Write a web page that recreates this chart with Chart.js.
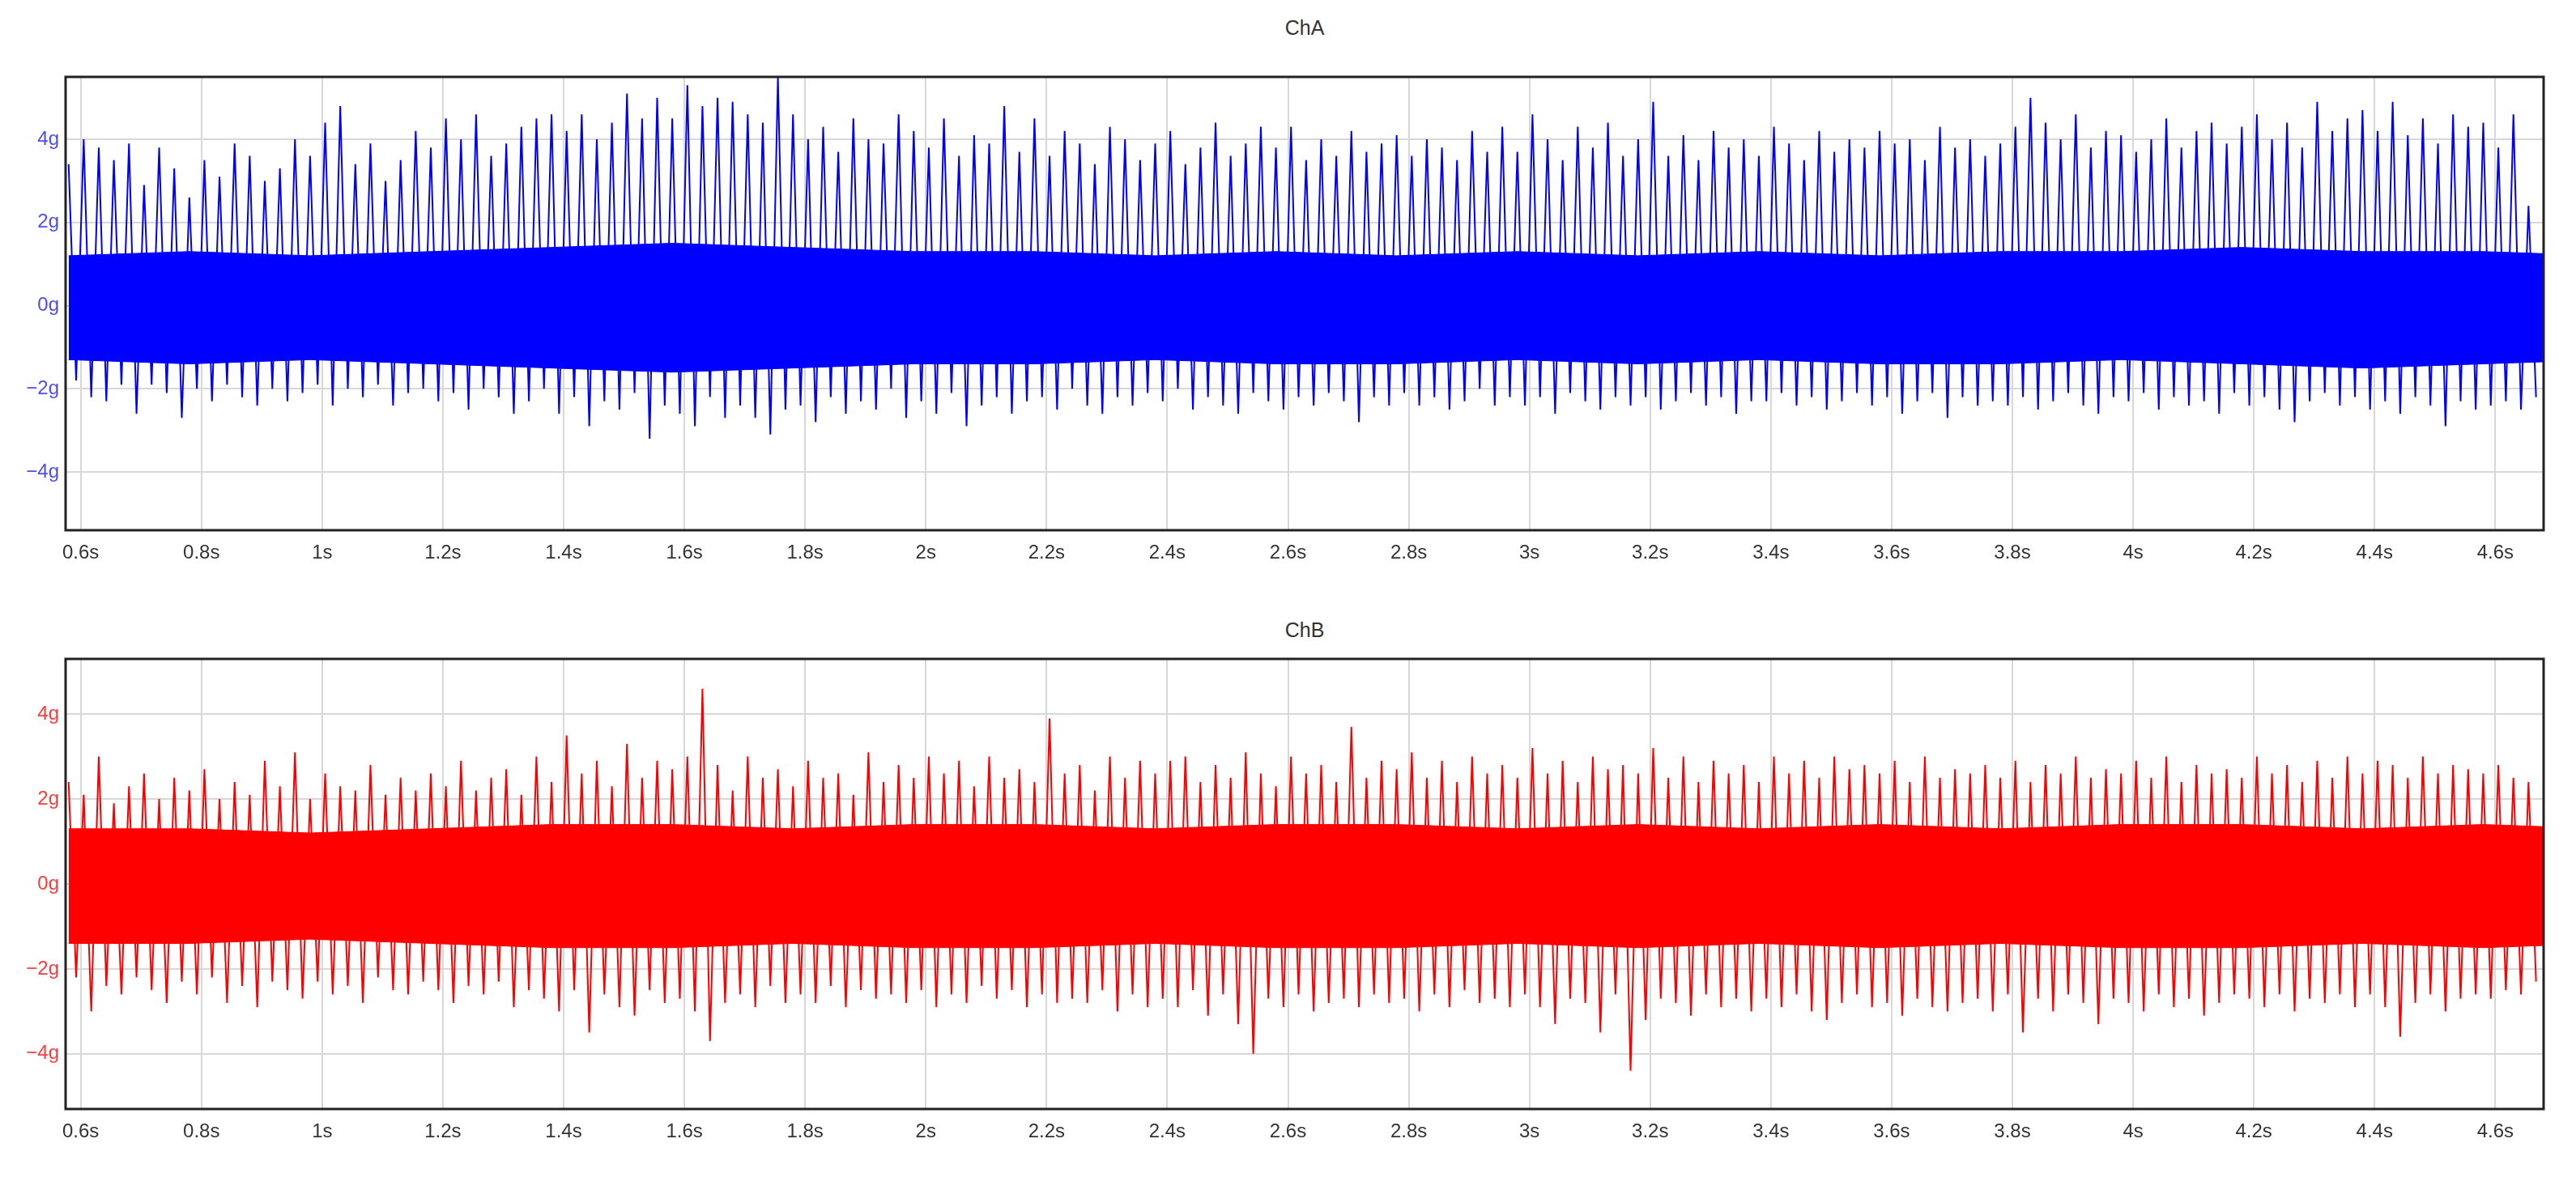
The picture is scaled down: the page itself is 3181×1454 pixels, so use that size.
<!DOCTYPE html>
<html>
<head>
<meta charset="utf-8">
<script src="https://cdn.jsdelivr.net/npm/chart.js@4/dist/chart.umd.min.js"></script>
<style>
  body { margin: 0; background: #fff; width: 3181px; height: 1454px; overflow: hidden; font-family: 'Liberation Sans Narrow', 'Liberation Sans', Arial, sans-serif; }
  .box { position: absolute; left: 0; width: 3181px; }
  .ttl { position: absolute; left: 0; width: 3222px; text-align: center; font-size: 25px; color: #333; }
</style>
</head>
<body>
<div class="ttl" style="top:20px">ChA</div>
<div class="box" style="top:0;height:720px"><canvas id="chA"></canvas></div>
<div class="ttl" style="top:764px">ChB</div>
<div class="box" style="top:720px;height:734px"><canvas id="chB"></canvas></div>
<script>
// sampling: one spike bucket every 0.025 s starting at 0.58 s, core band every 0.2 s
const T0 = 0.58, STEP = 0.025, CORE_STEP = 0.2;
const xTicks = [0.6,0.8,1,1.2,1.4,1.6,1.8,2,2.2,2.4,2.6,2.8,3,3.2,3.4,3.6,3.8,4,4.2,4.4,4.6];
const yTicks = [-4,-2,0,2,4];

const aPeaks = [
  3.4,4.0,3.8,3.5,3.9,2.9,3.8,3.3,  2.6,3.5,3.1,3.9,3.6,3.0,3.3,4.0,
  3.6,4.4,4.8,3.4,3.9,3.0,3.5,4.2,  3.8,4.5,4.0,4.6,3.6,3.9,4.3,4.5,
  4.6,4.2,4.6,4.0,4.4,5.1,4.5,5.0,  4.5,5.3,4.8,5.0,4.9,4.6,4.4,5.5,
  4.6,4.0,4.3,3.7,4.5,4.0,3.9,4.6,  4.2,3.8,4.5,3.6,4.1,3.9,4.8,3.7,
  4.5,3.6,4.2,3.9,3.4,4.3,4.0,3.5,  3.9,4.2,3.4,3.8,4.4,3.6,3.9,4.3,
  3.8,4.3,3.5,4.0,3.6,4.2,3.7,3.9,  4.1,3.6,4.0,3.8,3.5,4.2,3.7,4.3,
  3.7,4.6,4.0,3.5,4.3,3.8,4.4,3.6,  4.0,4.9,3.6,4.1,3.5,4.2,3.8,4.0,
  3.6,4.3,3.9,3.5,4.2,3.7,4.0,3.8,  4.2,3.9,4.0,3.5,4.3,3.8,4.0,3.6,
  3.9,4.3,5.0,4.4,4.0,4.6,3.8,4.2,  4.1,3.7,4.0,4.5,3.8,4.2,4.4,3.9,
  4.3,4.6,4.0,4.4,3.8,4.9,4.2,4.5,  4.7,4.2,4.9,4.1,4.5,3.9,4.6,4.3,
  4.4,3.8,4.6,2.4
];
const aTroughs = [
  -1.8,-2.2,-2.3,-1.9,-2.6,-1.9,-2.1,-2.7,  -2.0,-2.3,-1.9,-2.2,-2.4,-2.0,-2.3,-2.1,
  -1.9,-2.4,-2.0,-2.2,-1.9,-2.4,-2.1,-2.0,  -2.3,-2.1,-2.5,-2.0,-2.2,-2.6,-2.3,-2.0,
  -2.6,-2.2,-2.9,-2.3,-2.5,-2.1,-3.2,-2.4,  -2.6,-2.9,-2.2,-2.7,-2.4,-2.7,-3.1,-2.5,
  -2.4,-2.8,-2.2,-2.6,-2.3,-2.5,-2.0,-2.7,  -2.3,-2.6,-2.1,-2.9,-2.4,-2.2,-2.6,-2.3,
  -2.2,-2.5,-2.0,-2.4,-2.6,-2.2,-2.4,-2.1,  -2.3,-2.0,-2.5,-2.2,-2.4,-2.6,-2.1,-2.3,
  -2.5,-2.2,-2.4,-2.1,-2.3,-2.8,-2.2,-2.4,  -2.1,-2.4,-2.2,-2.5,-2.3,-2.0,-2.4,-2.2,
  -2.4,-2.2,-2.6,-2.1,-2.3,-2.5,-2.2,-2.4,  -2.2,-2.5,-2.3,-2.1,-2.4,-2.2,-2.6,-2.3,
  -2.3,-2.1,-2.4,-2.2,-2.5,-2.3,-2.1,-2.4,  -2.2,-2.6,-2.3,-2.1,-2.7,-2.2,-2.4,-2.3,
  -2.4,-2.2,-2.5,-2.3,-2.1,-2.4,-2.6,-2.2,  -2.3,-2.1,-2.5,-2.2,-2.4,-2.3,-2.6,-2.1,
  -2.4,-2.2,-2.5,-2.8,-2.3,-2.1,-2.4,-2.2,  -2.5,-2.3,-2.6,-2.2,-2.4,-2.9,-2.3,-2.5,
  -2.4,-2.3,-2.5,-2.2
];
const bPeaks = [
  2.4,2.1,3.0,1.9,2.3,2.6,2.0,2.5,  2.2,2.7,2.0,2.4,2.1,2.9,2.3,3.1,
  2.0,2.6,2.3,2.2,2.8,2.1,2.5,2.2,  2.6,2.3,2.9,2.2,2.5,2.7,2.1,3.0,
  2.4,3.5,2.6,2.9,2.3,3.3,2.5,2.9,  2.7,3.0,4.6,2.8,2.2,3.0,2.5,2.7,
  2.3,2.9,2.5,2.6,2.1,3.1,2.4,2.8,  2.5,3.0,2.6,2.9,2.3,3.0,2.5,2.7,
  2.4,3.9,2.6,2.8,2.2,3.0,2.5,2.9,  2.6,2.9,3.0,2.4,2.8,2.5,3.1,2.6,
  2.3,3.0,2.6,2.8,2.4,3.7,2.5,2.9,  2.7,3.1,2.5,2.9,2.4,3.0,2.6,2.8,
  2.5,3.2,2.6,2.9,2.4,3.0,2.7,2.8,  2.6,3.2,2.5,3.0,2.4,2.9,2.6,2.8,
  2.4,3.0,2.6,2.9,2.5,3.0,2.7,2.8,  2.6,2.9,2.4,3.0,2.5,2.7,2.6,2.8,
  2.5,2.9,2.4,2.8,2.6,3.0,2.5,2.7,  2.6,2.9,2.5,3.0,2.4,2.8,2.6,2.7,
  2.5,3.0,2.6,2.8,2.4,2.9,2.5,3.0,  2.6,2.9,2.8,2.5,3.0,2.6,2.8,2.7,
  2.6,2.8,2.5,2.4
];
const bTroughs = [
  -2.2,-3.0,-2.4,-2.6,-2.2,-2.5,-2.8,-2.3,  -2.6,-2.2,-2.8,-2.4,-2.9,-2.3,-2.5,-2.7,
  -2.3,-2.6,-2.4,-2.8,-2.2,-2.5,-2.6,-2.3,  -2.5,-2.8,-2.4,-2.6,-2.3,-2.9,-2.5,-2.7,
  -3.0,-2.5,-3.5,-2.6,-2.9,-3.1,-2.5,-2.8,  -2.7,-3.0,-3.7,-2.8,-2.6,-2.9,-2.4,-2.8,
  -2.6,-2.8,-2.4,-2.9,-2.5,-2.7,-2.6,-2.8,  -2.5,-2.9,-2.6,-2.8,-2.4,-2.7,-2.5,-2.9,
  -2.6,-2.8,-2.7,-2.8,-2.5,-3.0,-2.6,-2.9,  -2.7,-2.9,-2.5,-3.1,-2.6,-3.3,-4.0,-2.7,
  -2.9,-2.6,-3.0,-2.8,-2.7,-2.9,-2.6,-2.8,  -2.7,-3.0,-2.6,-2.9,-2.5,-2.8,-2.7,-2.9,
  -2.6,-2.9,-3.3,-2.7,-2.8,-3.5,-2.6,-4.4,  -3.2,-2.7,-2.8,-3.1,-2.6,-2.9,-2.7,-3.0,
  -2.7,-2.9,-2.6,-3.0,-3.2,-2.8,-2.6,-2.9,  -2.8,-3.1,-2.7,-2.9,-3.0,-2.8,-2.7,-3.0,
  -2.6,-3.5,-2.7,-3.0,-2.6,-2.8,-3.3,-2.7,  -2.8,-3.0,-2.6,-2.9,-2.7,-3.1,-2.8,-2.6,
  -2.7,-2.9,-2.6,-3.0,-2.7,-2.8,-2.6,-2.9,  -2.6,-2.9,-3.6,-2.8,-2.6,-3.0,-2.7,-2.6,
  -2.7,-2.5,-2.6,-2.3
];
const aCoreHi = [1.2,1.3,1.2,1.3,1.4,1.5,1.4,1.3,1.3,1.2,1.3,1.2,1.3,1.2,1.3,1.2,1.3,1.3,1.4,1.3,1.3,1.2];
const aCoreLo = [-1.3,-1.4,-1.3,-1.4,-1.5,-1.6,-1.5,-1.4,-1.4,-1.3,-1.4,-1.4,-1.3,-1.4,-1.3,-1.4,-1.4,-1.3,-1.4,-1.5,-1.4,-1.3];
const bCoreHi = [1.3,1.3,1.2,1.3,1.4,1.4,1.3,1.4,1.4,1.3,1.4,1.4,1.3,1.4,1.3,1.4,1.3,1.4,1.4,1.3,1.4,1.3];
const bCoreLo = [-1.4,-1.4,-1.3,-1.4,-1.5,-1.5,-1.4,-1.5,-1.5,-1.4,-1.5,-1.5,-1.4,-1.5,-1.4,-1.5,-1.4,-1.5,-1.5,-1.4,-1.5,-1.4];

function spikeSeries(peaks, troughs) {
  const pts = [];
  peaks.forEach((p, i) => {
    const t = T0 + i * STEP;
    pts.push({ x: t, y: p });
    pts.push({ x: t + STEP / 2, y: troughs[i] });
  });
  return pts;
}
const coreSeries = arr => arr.map((v, i) => ({ x: T0 + i * CORE_STEP, y: v }));
const fmtS = v => (Math.round(v * 10) / 10) + 's';

const frame = {
  id: 'frame',
  afterDraw(c) {
    const a = c.chartArea, ctx = c.ctx;
    ctx.save(); ctx.strokeStyle = '#222'; ctx.lineWidth = 3;
    ctx.strokeRect(a.left, a.top, a.right - a.left, a.bottom - a.top);
    ctx.restore();
  }
};

function makeChart(id, color, tickColor, peaks, troughs, hi, lo, ymin, ymax, pad) {
  return new Chart(document.getElementById(id), {
    type: 'line',
    data: {
      datasets: [
        { data: spikeSeries(peaks, troughs), borderColor: color, borderWidth: 2, pointRadius: 0, tension: 0 },
        { data: coreSeries(hi), borderColor: color, backgroundColor: color, borderWidth: 1, pointRadius: 0, fill: '+1' },
        { data: coreSeries(lo), borderColor: color, borderWidth: 1, pointRadius: 0, fill: false }
      ]
    },
    options: {
      responsive: true, maintainAspectRatio: false, animation: false,
      layout: { padding: { top: pad.top, right: 40, bottom: pad.bottom, left: 0 } },
      plugins: { legend: { display: false }, tooltip: { enabled: false } },
      scales: {
        x: {
          type: 'linear', min: 0.575, max: 4.68,
          afterBuildTicks: s => { s.ticks = xTicks.map(v => ({ value: v })); },
          afterFit: s => { s.height = pad.axis; },
          ticks: { color: '#333', font: { size: 24, family: "'Liberation Sans Narrow','Liberation Sans'" }, padding: 14, maxRotation: 0, autoSkip: false, callback: fmtS },
          grid: { color: '#d8d8d8', lineWidth: 2, drawTicks: false },
          border: { display: false }
        },
        y: {
          min: ymin, max: ymax,
          afterBuildTicks: s => { s.ticks = yTicks.map(v => ({ value: v })); },
          afterFit: s => { s.width = 81; },
          ticks: { color: tickColor, font: { size: 24, family: "'Liberation Sans Narrow','Liberation Sans'" }, padding: 8, callback: v => (v < 0 ? '\u2212' + (-v) : v) + 'g' },
          grid: { color: '#d8d8d8', lineWidth: 2, drawTicks: false },
          border: { display: false }
        }
      }
    },
    plugins: [frame]
  });
}

makeChart('chA', '#0000ff', '#4b4bff', aPeaks, aTroughs, aCoreHi, aCoreLo, -5.4, 5.5, { top: 95, bottom: 0, axis: 65 });
makeChart('chB', '#ff0000', '#ff3a3a', bPeaks, bTroughs, bCoreHi, bCoreLo, -5.3, 5.3, { top: 94, bottom: 20, axis: 64 });
</script>
</body>
</html>
